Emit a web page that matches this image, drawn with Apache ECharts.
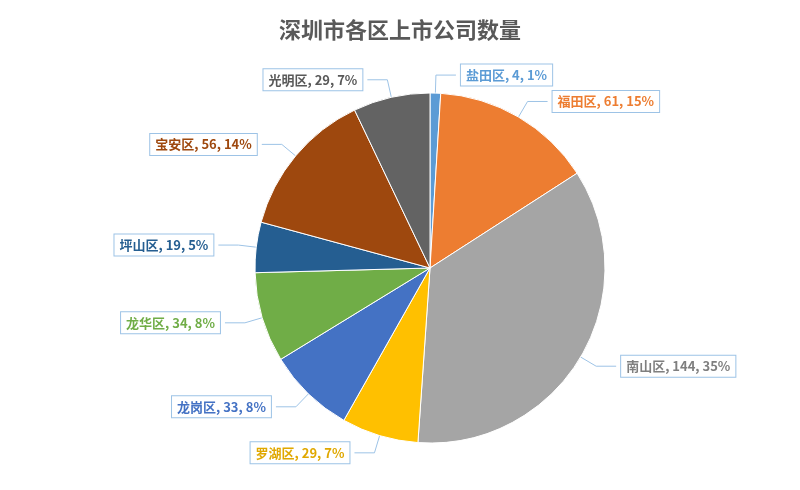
<!DOCTYPE html>
<html><head><meta charset="utf-8">
<script src="https://cdn.jsdelivr.net/npm/echarts@6/dist/echarts.min.js"></script>
<style>html,body{margin:0;background:#fff}#c{width:800px;height:490px}</style>
</head><body><div id="c"></div>
<script>
const categories=['盐田区','福田区','南山区','罗湖区','龙岗区','龙华区','坪山区','宝安区','光明区'];
const values=[4,61,144,29,33,34,19,56,29];
const percents=['1%','15%','35%','7%','8%','8%','5%','14%','7%'];
const colors=['#5B9BD5','#ED7D31','#A5A5A5','#FFC000','#4472C4','#70AD47','#255E91','#9E480E','#636363'];
const labelColors=['#5B9BD5','#ED7D31','#7F7F7F','#E0A800','#4472C4','#70AD47','#255E91','#9E480E','#595959'];
const chart=echarts.init(document.getElementById('c'));
chart.setOption({
  title:{text:'深圳市各区上市公司数量',left:'center',top:14,textStyle:{fontSize:22,fontWeight:'bold',color:'#595959',fontFamily:'Noto Sans CJK SC'}},
  series:[{type:'pie',center:[430,268],radius:[0,175],startAngle:90,clockwise:true,
    data:categories.map((n,i)=>({name:n,value:values[i],
      itemStyle:{color:colors[i],borderColor:'#fff',borderWidth:1},
      label:{color:labelColors[i],borderColor:'#9DC3E6',borderWidth:1,backgroundColor:'#fff',padding:[4,5],
        formatter:n+', '+values[i]+', '+percents[i]},
      labelLine:{lineStyle:{color:'#9DC3E6'}}})),
    label:{fontSize:13,fontWeight:'bold',fontFamily:'Noto Sans CJK SC'},
    labelLine:{length:18,length2:20},
    emphasis:{disabled:true}
  }]
});
</script></body></html>
